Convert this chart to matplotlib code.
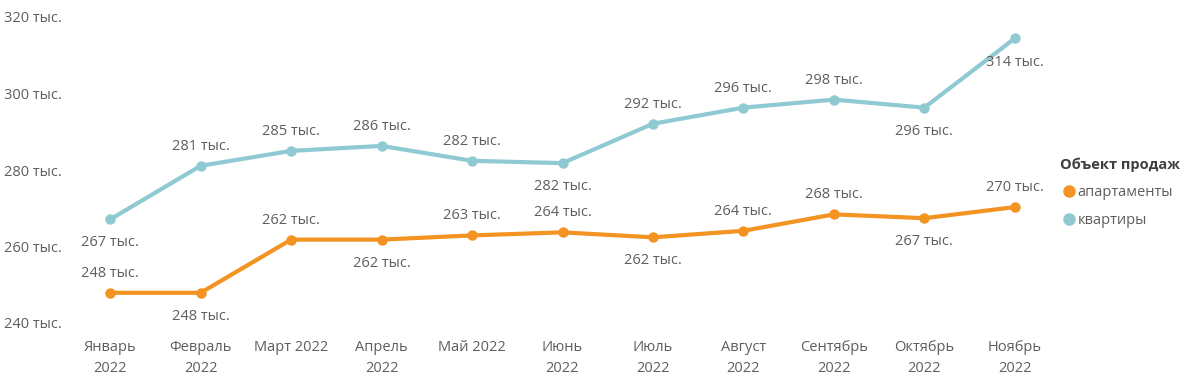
import matplotlib.pyplot as plt
from matplotlib.lines import Line2D

months = ["Январь\n2022", "Февраль\n2022", "Март 2022", "Апрель\n2022", "Май 2022",
          "Июнь\n2022", "Июль\n2022", "Август\n2022", "Сентябрь\n2022",
          "Октябрь\n2022", "Ноябрь\n2022"]
kvartiry = [267.1, 281.1, 285.0, 286.3, 282.4, 281.8, 292.1, 296.3, 298.4, 296.3, 314.4]
apart = [247.9, 247.9, 261.8, 261.8, 262.9, 263.7, 262.4, 264.1, 268.4, 267.4, 270.3]
kv_pos = ["b", "a", "a", "a", "a", "b", "a", "a", "a", "b", "b"]
ap_pos = ["a", "b", "a", "b", "a", "a", "b", "a", "a", "b", "a"]
yticks = [240, 260, 280, 300, 320]

ORANGE = "#F39322"
TEAL = "#8FCAD3"
GREY = "#605E5C"

plt.rcParams["font.family"] = ["Open Sans", "DejaVu Sans"]

fig = plt.figure(figsize=(11.82, 3.80), dpi=100)
ax = fig.add_axes([65 / 1182, 57 / 380, (1060 - 65) / 1182, (323 - 17) / 380])

x = list(range(len(months)))
ax.plot(x, kvartiry, color=TEAL, lw=3, marker="o", ms=6.5, solid_capstyle="round", zorder=3)
ax.plot(x, apart, color=ORANGE, lw=3, marker="o", ms=6.5, solid_capstyle="round", zorder=3)

for vals, pos in [(kvartiry, kv_pos), (apart, ap_pos)]:
    for i, (v, p) in enumerate(zip(vals, pos)):
        dy = 14 if p == "a" else -17
        ax.annotate(f"{round(v)} тыс.", (i, v), xytext=(0, dy), textcoords="offset points",
                    ha="center", va="center", fontsize=10.5, color=GREY)

ax.set_xlim(-0.5, len(months) - 0.5)
ax.set_ylim(240, 320)
ax.set_yticks(yticks)
ax.set_yticklabels([f"{t} тыс." for t in yticks])
ax.set_xticks(x)
ax.set_xticklabels(months, linespacing=1.55)
ax.tick_params(length=0, labelsize=10.5, labelcolor=GREY)
ax.tick_params(axis="y", pad=2)
ax.tick_params(axis="x", pad=12)
for s in ax.spines.values():
    s.set_visible(False)

handles = [Line2D([0], [0], color=ORANGE, marker="o", ls="", ms=8, label="апартаменты"),
           Line2D([0], [0], color=TEAL, marker="o", ls="", ms=8, label="квартиры")]
leg = fig.legend(handles=handles, title="Объект продаж", loc="upper left",
                 bbox_to_anchor=(1053 / 1182, 1 - 150 / 380), frameon=False,
                 fontsize=10.5, title_fontsize=10.5, handletextpad=0.0,
                 labelspacing=0.9, borderpad=0, handlelength=1.2)
leg.get_title().set_fontweight("bold")
leg.get_title().set_color("#404040")
leg._legend_box.align = "left"
for t in leg.get_texts():
    t.set_color(GREY)

fig.savefig("out.png", dpi=100)
